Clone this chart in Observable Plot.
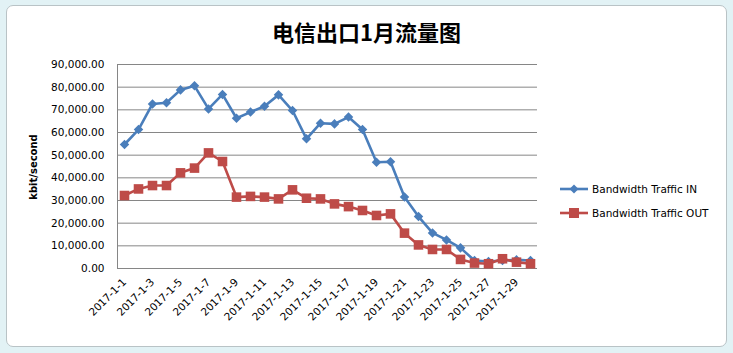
<!DOCTYPE html>
<html>
<head>
<meta charset="utf-8">
<script src="https://cdn.jsdelivr.net/npm/d3@7"></script>
<script src="https://cdn.jsdelivr.net/npm/@observablehq/plot@0.6"></script>
<style>
  html, body { margin: 0; padding: 0; background: #ffffff; }
  #wrap { position: relative; width: 733px; height: 353px; overflow: hidden; background: #e2f2f5; font-family: "DejaVu Sans", sans-serif; }
  #frame { position: absolute; left: 6px; top: 5px; width: 719px; height: 340px; background: #fff; border: 1px solid #b9c3c6; border-radius: 7px; }
  #title { position: absolute; left: 0; width: 733px; top: 16px; text-align: center; font-family: "Noto Sans CJK SC", sans-serif; font-weight: bold; font-size: 22px; color: #000; line-height: 30px; }
  #chart { position: absolute; left: 0; top: 0; }
  #ylab { position: absolute; left: 33px; top: 167px; transform: translate(-50%, -50%) rotate(-90deg); font-weight: bold; font-size: 10px; white-space: nowrap; color: #000; }
  #legend { position: absolute; left: 559px; top: 177px; font-size: 10.5px; color: #000; }
  .li { display: flex; align-items: center; height: 24px; }
  .li svg { margin-right: 3px; }
</style>
</head>
<body>
<div id="wrap">
  <div id="frame"></div>
  <div id="chart"></div>
  <div id="title">电信出口1月流量图</div>
  <div id="ylab">kbit/second</div>
  <div id="legend"></div>
</div>
<script>
const dates = d3.range(1, 31).map(d => `2017-1-${d}`);
const seriesNames = ["Bandwidth Traffic IN", "Bandwidth Traffic OUT"];
const trafficIn = [54700, 61300, 72600, 73100, 78800, 80600, 70400, 76800, 66300, 69000,
                   71600, 76600, 69700, 57200, 64100, 63800, 66800, 61300, 46900, 47100,
                   31500, 22900, 15700, 12600, 9100, 3500, 3100, 3500, 3800, 3500];
const trafficOut = [32200, 35100, 36600, 36600, 42200, 44300, 51000, 47200, 31500, 31800,
                    31500, 30700, 34700, 31000, 30700, 28500, 27300, 25600, 23400, 24100,
                    15600, 10400, 8400, 8400, 4000, 2400, 2100, 4300, 2800, 2100];
const yTicks = d3.range(0, 90001, 10000);
const xTicks = dates.filter((d, i) => i % 2 === 0);
const colors = ["#4a7ebb", "#be4b48"];
const symbols = ["diamond2", "square"];

const rows = [];
dates.forEach((d, i) => {
  rows.push({date: d, series: seriesNames[0], value: trafficIn[i]});
  rows.push({date: d, series: seriesNames[1], value: trafficOut[i]});
});

const plot = Plot.plot({
  width: 733,
  height: 353,
  marginLeft: 117,
  marginRight: 196,
  marginTop: 64,
  marginBottom: 85,
  style: {background: "transparent", fontFamily: "DejaVu Sans, sans-serif", fontSize: "10.5px", color: "#000"},
  x: {type: "point", domain: dates, padding: 0.5, label: null},
  y: {domain: [0, 90000], label: null},
  color: {domain: seriesNames, range: colors},
  symbol: {domain: seriesNames, range: symbols},
  marks: [
    Plot.gridY(yTicks, {stroke: "#868686", strokeOpacity: 1, strokeWidth: 1}),
    Plot.ruleX([dates[0]], {dx: -7, stroke: "#868686"}),
    Plot.ruleY([0], {stroke: "#868686"}),
    Plot.axisY({ticks: yTicks, tickFormat: d3.format(",.2f"), tickSize: 0, tickPadding: 13, fontSize: "10.5px"}),
    Plot.axisX({ticks: xTicks, tickRotate: -45, tickSize: 0, tickPadding: 12, fontSize: "10.5px"}),
    Plot.line(rows, {x: "date", y: "value", z: "series", stroke: "series", strokeWidth: 2.6}),
    Plot.dot(rows.filter(r => r.series === seriesNames[0]), {x: "date", y: "value", fill: "series", symbol: "series", r: 4.3, stroke: "none"}),
    Plot.dot(rows.filter(r => r.series === seriesNames[1]), {x: "date", y: "value", fill: "series", symbol: "series", r: 5.4, stroke: "none"})
  ]
});
document.getElementById("chart").appendChild(plot);

const legend = document.getElementById("legend");
seriesNames.forEach((name, i) => {
  const item = document.createElement("div");
  item.className = "li";
  const sw = i === 0
    ? `<svg width="30" height="12"><line x1="1" y1="6" x2="29" y2="6" stroke="${colors[i]}" stroke-width="2.6"/><path d="M15,1.5L19.5,6L15,10.5L10.5,6Z" fill="${colors[i]}"/></svg>`
    : `<svg width="30" height="12"><line x1="1" y1="6" x2="29" y2="6" stroke="${colors[i]}" stroke-width="2.6"/><rect x="10" y="1" width="10" height="10" fill="${colors[i]}"/></svg>`;
  item.innerHTML = sw + `<span>${name}</span>`;
  legend.appendChild(item);
});
</script>
</body>
</html>
